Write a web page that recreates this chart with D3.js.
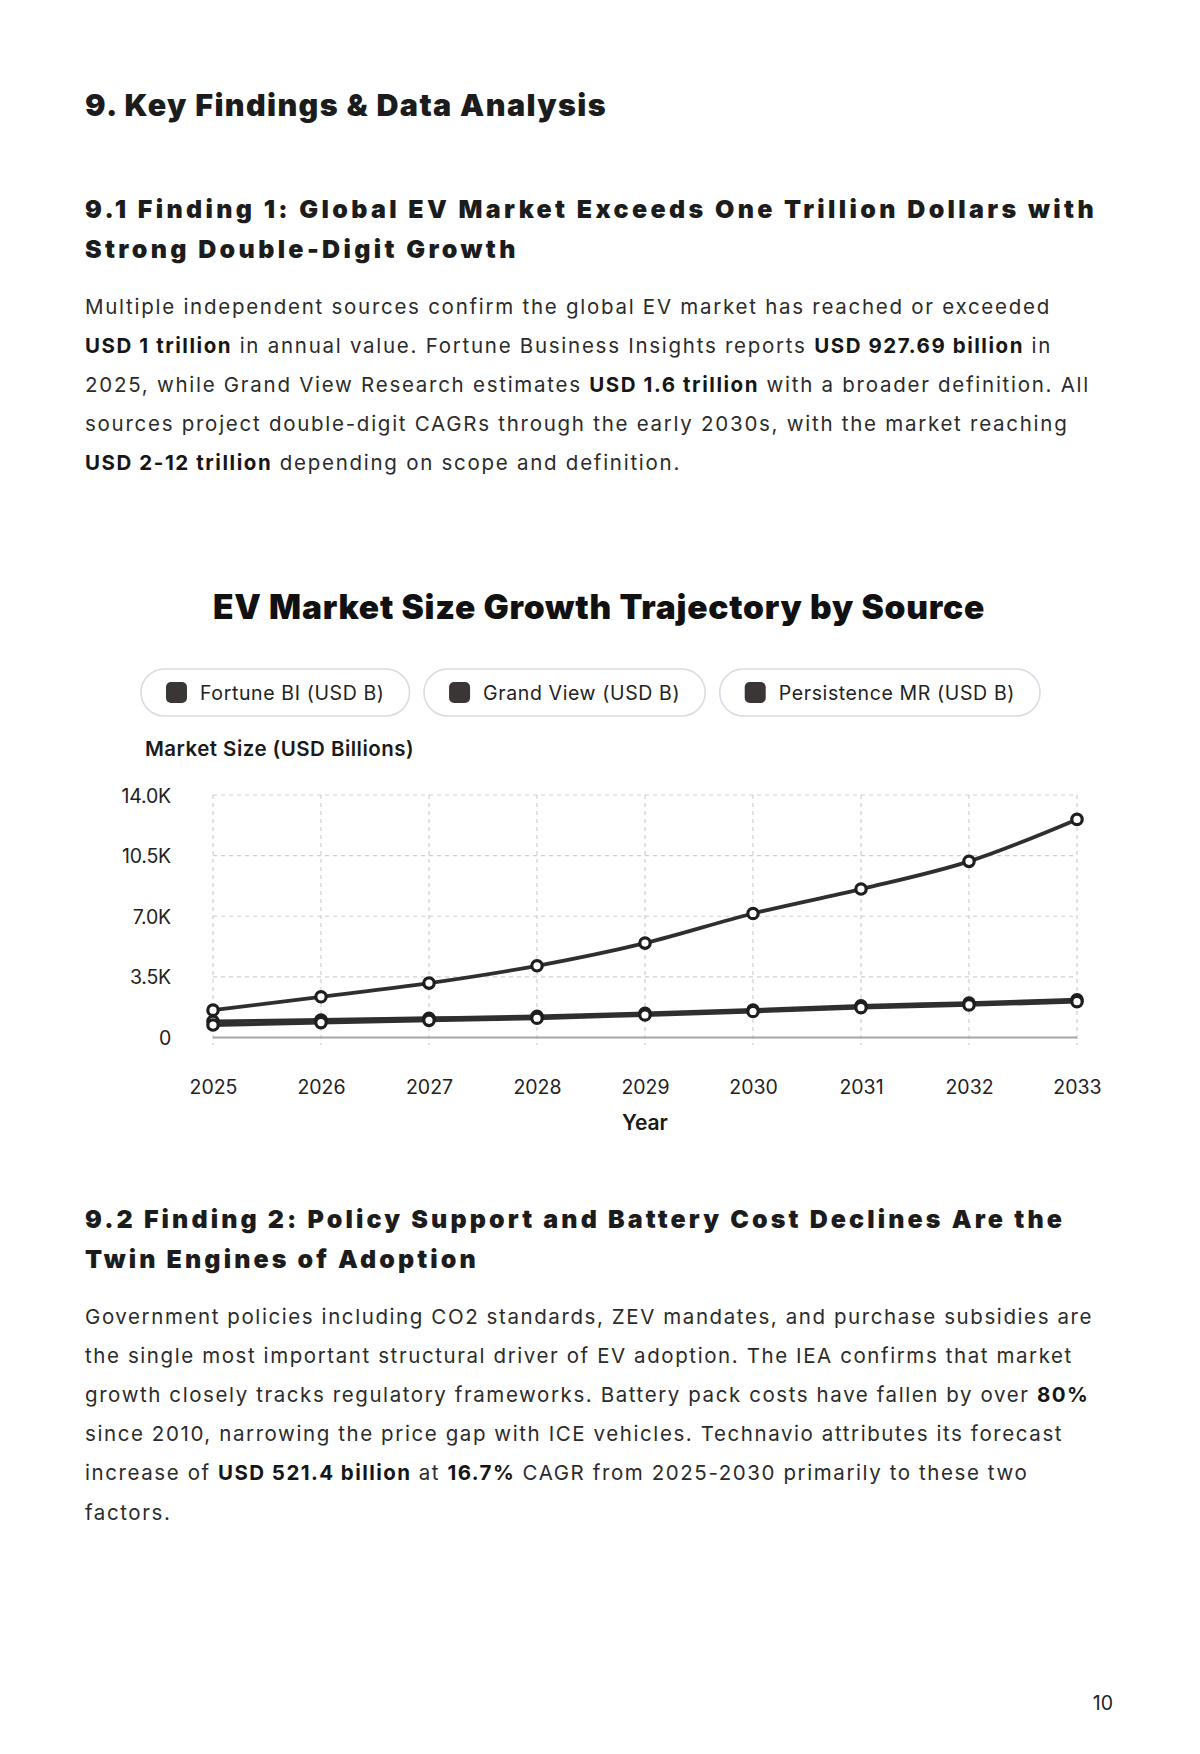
<!DOCTYPE html>
<html>
<head>
<meta charset="utf-8">
<script src="https://cdn.jsdelivr.net/npm/d3@7/dist/d3.min.js"></script>
<style>
  html, body { margin: 0; padding: 0; background: #fff; }
  svg { display: block; }
</style>
</head>
<body>
<div id="page"></div>
<script>
// ---------------- DATA ----------------
const years = [2025, 2026, 2027, 2028, 2029, 2030, 2031, 2032, 2033];
const fortuneBI = [928, 1010, 1110, 1220, 1390, 1590, 1830, 1990, 2180];
const grandView = [1580, 2350, 3140, 4140, 5450, 7160, 8570, 10170, 12590];
const persistenceMR = [720, 860, 990, 1110, 1300, 1500, 1720, 1880, 2070];
const seriesNames = ["Fortune BI (USD B)", "Grand View (USD B)", "Persistence MR (USD B)"];
const yTickValues = [0, 3500, 7000, 10500, 14000];
const yTickLabels = ["0", "3.5K", "7.0K", "10.5K", "14.0K"];
const chartTitle = "EV Market Size Growth Trajectory by Source";
const yAxisTitle = "Market Size (USD Billions)";
const xAxisTitle = "Year";

const h1Text = "9. Key Findings & Data Analysis";
const h2aLines = ["9.1 Finding 1: Global EV Market Exceeds One Trillion Dollars with", "Strong Double-Digit Growth"];
const h2bLines = ["9.2 Finding 2: Policy Support and Battery Cost Declines Are the", "Twin Engines of Adoption"];
const para1 = [
  [["Multiple independent sources confirm the global EV market has reached or exceeded", 0]],
  [["USD 1 trillion", 1], [" in annual value. Fortune Business Insights reports ", 0], ["USD 927.69 billion", 1], [" in", 0]],
  [["2025, while Grand View Research estimates ", 0], ["USD 1.6 trillion", 1], [" with a broader definition. All", 0]],
  [["sources project double-digit CAGRs through the early 2030s, with the market reaching", 0]],
  [["USD 2-12 trillion", 1], [" depending on scope and definition.", 0]]
];
const para2 = [
  [["Government policies including CO2 standards, ZEV mandates, and purchase subsidies are", 0]],
  [["the single most important structural driver of EV adoption. The IEA confirms that market", 0]],
  [["growth closely tracks regulatory frameworks. Battery pack costs have fallen by over ", 0], ["80%", 1]],
  [["since 2010, narrowing the price gap with ICE vehicles. Technavio attributes its forecast", 0]],
  [["increase of ", 0], ["USD 521.4 billion", 1], [" at ", 0], ["16.7%", 1], [" CAGR from 2025-2030 primarily to these two", 0]],
  [["factors.", 0]]
];
const pageNumber = "10";

// ---------------- LAYOUT ----------------
const W = 1200, H = 1754, LM = 85;
const svg = d3.select("#page").append("svg").attr("width", W).attr("height", H);

const HEAD_FONT = "Inter, 'DejaVu Sans', sans-serif";
const BODY_FONT = "Inter, 'Noto Sans', sans-serif";
const ink = "#1c1c1c";

function fitSpacing(sel, target) {
  sel.attr("letter-spacing", 0);
  const w = sel.node().getComputedTextLength();
  const n = sel.text().length;
  const ls = (target - w) / n;
  sel.attr("letter-spacing", ls);
  return ls;
}

// Heading 1
const h1 = svg.append("text").attr("x", LM).attr("y", 116)
  .attr("font-family", HEAD_FONT).attr("font-weight", 900).attr("font-size", 30.5)
  .attr("fill", ink).text(h1Text);
fitSpacing(h1, 522);

function heading(lines, y0, target) {
  let ls = 0;
  lines.forEach((t, i) => {
    const el = svg.append("text").attr("x", LM).attr("y", y0 + i * 39.5)
      .attr("font-family", HEAD_FONT).attr("font-weight", 900).attr("font-size", 25)
      .attr("fill", ink).text(t);
    if (i === 0) ls = fitSpacing(el, target); else el.attr("letter-spacing", ls);
  });
}
heading(h2aLines, 218, 1012);
heading(h2bLines, 1228, 980);

function paragraph(lines, y0, target) {
  const probe = svg.append("text").attr("x", LM).attr("y", -100)
    .attr("font-family", BODY_FONT).attr("font-size", 20.5).text(lines[0][0][0]);
  const ls = fitSpacing(probe, target);
  probe.remove();
  lines.forEach((segs, i) => {
    const el = svg.append("text").attr("x", LM).attr("y", y0 + i * 39.1)
      .attr("font-family", BODY_FONT).attr("font-size", 20.5).attr("fill", "#2b2b2b")
      .attr("letter-spacing", ls);
    segs.forEach(([t, b]) => {
      el.append("tspan").attr("font-weight", b ? 700 : 400)
        .attr("fill", b ? "#161616" : "#2b2b2b")
        .attr("letter-spacing", b ? ls * 0.9 : ls).text(t);
    });
  });
}
paragraph(para1, 314, 966);
paragraph(para2, 1324, 1008);

// page number
svg.append("text").attr("x", 1113).attr("y", 1710).attr("text-anchor", "end")
  .attr("font-family", BODY_FONT).attr("font-size", 19.5).attr("fill", "#222").text(pageNumber);

// ---------------- CHART ----------------
const titleEl = svg.append("text").attr("x", 599).attr("y", 619).attr("text-anchor", "middle")
  .attr("font-family", HEAD_FONT).attr("font-weight", 900).attr("font-size", 33.5)
  .attr("fill", "#111").text(chartTitle);
fitSpacing(titleEl, 772);

// legend
const legendY = 669, legendH = 47, pad = 25, sw = 21, gap = 13, pillGap = 14.5;
const legend = svg.append("g");
const pills = [];
let cx = 0;
seriesNames.forEach((name) => {
  const g = legend.append("g");
  const t = g.append("text").attr("font-family", BODY_FONT).attr("font-size", 19.5)
    .attr("letter-spacing", 0.62).attr("fill", "#222").text(name);
  const tw = t.node().getComputedTextLength();
  const pw = pad + sw + gap + tw + pad;
  g.insert("rect", "text").attr("x", 0).attr("y", 0).attr("width", pw).attr("height", legendH)
    .attr("rx", legendH / 2).attr("fill", "#fff").attr("stroke", "#d8dde4").attr("stroke-width", 1.6);
  g.append("rect").attr("x", pad).attr("y", (legendH - sw) / 2).attr("width", sw).attr("height", sw)
    .attr("rx", 5).attr("fill", "#3a3636");
  t.attr("x", pad + sw + gap).attr("y", legendH / 2 + 7);
  pills.push({ g, x: cx, w: pw });
  cx += pw + pillGap;
});
const totalW = cx - pillGap;
const lx0 = 590.5 - totalW / 2;
pills.forEach(p => p.g.attr("transform", `translate(${lx0 + p.x},${legendY})`));

// y axis title
const yTitle = svg.append("text").attr("x", 145).attr("y", 756)
  .attr("font-family", BODY_FONT).attr("font-weight", 600).attr("font-size", 20.5)
  .attr("fill", "#1a1a1a").text(yAxisTitle);
fitSpacing(yTitle, 269);

const x = d3.scalePoint().domain(years).range([213, 1077]);
const y = d3.scaleLinear().domain([0, 14000]).range([1037.5, 795]);

const grid = svg.append("g");
grid.selectAll("line.h").data(yTickValues.filter(v => v > 0)).join("line")
  .attr("x1", 213).attr("x2", 1077).attr("y1", d => y(d)).attr("y2", d => y(d))
  .attr("stroke", "#cfcfcf").attr("stroke-width", 1.2).attr("stroke-dasharray", "4,4");
grid.selectAll("line.v").data(years).join("line")
  .attr("x1", d => x(d)).attr("x2", d => x(d)).attr("y1", 795).attr("y2", 1045)
  .attr("stroke", "#cfcfcf").attr("stroke-width", 1.2).attr("stroke-dasharray", "4,4");

// y axis labels
const yAxis = d3.axisLeft(y).tickValues(yTickValues).tickSize(0).tickPadding(0)
  .tickFormat((d, i) => yTickLabels[i]);
const yg = svg.append("g").attr("transform", "translate(171,0)").call(yAxis);
yg.select(".domain").remove();
yg.selectAll("text").attr("font-family", BODY_FONT).attr("font-size", 19.5)
  .attr("fill", "#222").attr("dy", "0.36em").attr("letter-spacing", -0.2);

// baseline
svg.append("line").attr("x1", 213).attr("x2", 1077).attr("y1", y(0)).attr("y2", y(0))
  .attr("stroke", "#a6a6a6").attr("stroke-width", 2);

// x axis labels
const xAxis = d3.axisBottom(x).tickSize(0).tickPadding(0);
const xg = svg.append("g").attr("transform", "translate(0,1094)").call(xAxis);
xg.select(".domain").remove();
xg.selectAll("text").attr("font-family", BODY_FONT).attr("font-size", 19.5)
  .attr("fill", "#222").attr("dy", 0).attr("y", 0);

svg.append("text").attr("x", 645).attr("y", 1130).attr("text-anchor", "middle")
  .attr("font-family", BODY_FONT).attr("font-weight", 600).attr("font-size", 21)
  .attr("fill", "#1a1a1a").text(xAxisTitle);

// lines
const allSeries = [fortuneBI, grandView, persistenceMR];
const line = d3.line().x((d, i) => x(years[i])).y(d => y(d)).curve(d3.curveMonotoneX);
const lg = svg.append("g");
allSeries.forEach((vals) => {
  lg.append("path").datum(vals).attr("d", line).attr("fill", "none")
    .attr("stroke", "#2f2f2f").attr("stroke-width", 3.8).attr("stroke-linejoin", "round");
});
allSeries.forEach((vals) => {
  lg.selectAll(null).data(vals).join("circle")
    .attr("cx", (d, i) => x(years[i])).attr("cy", d => y(d)).attr("r", 5.2)
    .attr("fill", "#fff").attr("stroke", "#1e1e1e").attr("stroke-width", 3.2);
});
</script>
</body>
</html>
